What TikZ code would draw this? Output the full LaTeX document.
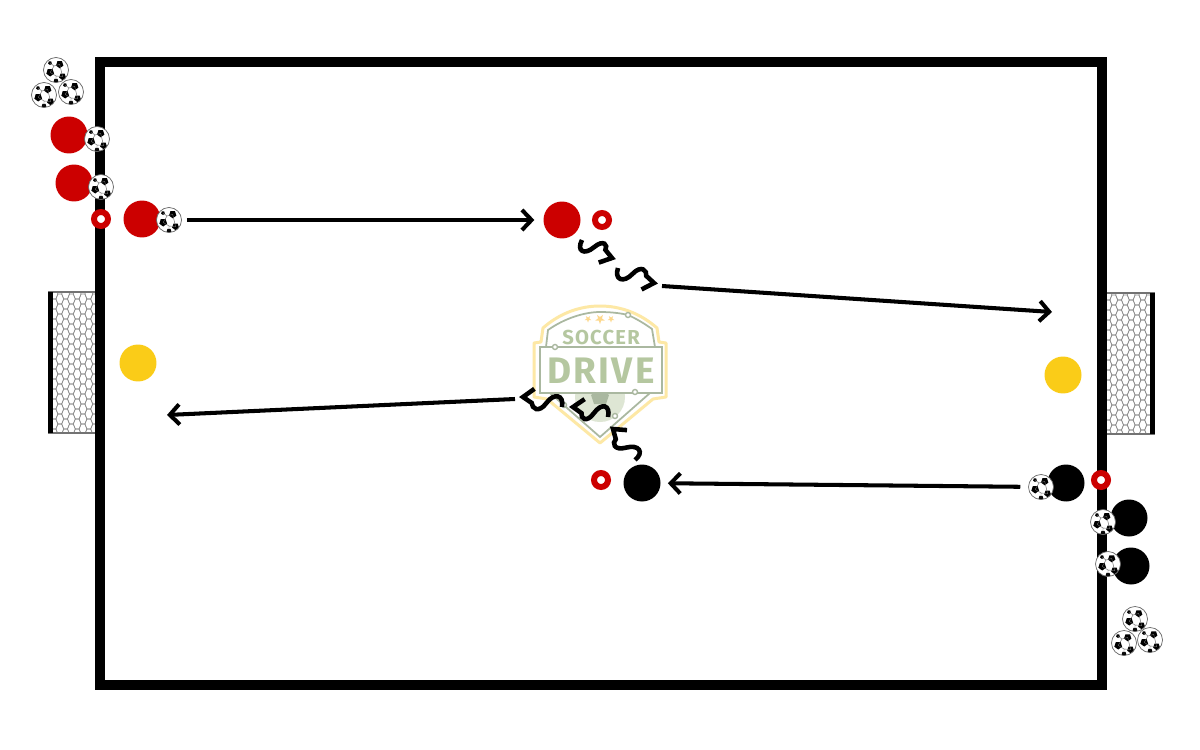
\documentclass[tikz,border=0pt]{standalone}
\usepackage{fontspec}
\usetikzlibrary{arrows.meta,calc}
\newfontfamily\logofont[LetterSpace=6]{Fira Sans}
\definecolor{redteam}{RGB}{204,0,0}
\definecolor{keeper}{RGB}{250,204,24}
\definecolor{crest}{RGB}{181,199,160}
\definecolor{crestline}{RGB}{170,184,160}
\definecolor{crestgold}{RGB}{253,232,165}
\newcommand{\dribblerun}[2]{%
  \draw[dribble] (#1) .. controls ($(#1)!0.02!(#2)!7pt!-90:(#2)$) and ($(#1)!0.28!(#2)!7pt!-90:(#2)$) .. ($(#1)!0.4!(#2)$)
    .. controls ($(#1)!0.52!(#2)!7pt!90:(#2)$) and ($(#1)!0.72!(#2)!5pt!90:(#2)$) .. ($(#2)!6pt!-20:(#1)$) -- (#2) -- ($(#2)!8pt!50:(#1)$);}
\tikzset{
    player/.style={circle,inner sep=0pt,minimum size=0.74cm},
    cone/.style={circle,draw=redteam,fill=white,line width=3.4pt,inner sep=0pt,minimum size=0.28cm},
    ball/.style={circle,draw=black!60,fill=white,line width=0.4pt,inner sep=0pt,minimum size=0.5cm,
      path picture={
        \begin{scope}[shift={(path picture bounding box.center)},x=0.02cm,y=-0.02cm]
          \foreach \spotx/\spoty/\spotr in {3.7/-5.6/3.9,-5.8/2.4/4.1,6.6/6.6/3.6,-6/-7/2,0/11/2.6}{
            \fill[black] (\spotx,\spoty) +(90:\spotr) -- +(162:\spotr) -- +(234:\spotr) -- +(306:\spotr) -- +(18:\spotr) -- cycle;
          }
          \draw[black!60,line width=0.25pt] (-2,-4) -- (3.7,-5.6) (-2,-4) -- (-5.8,2.4) (-5.8,2.4) -- (0,6) -- (6.6,6.6)
            (3.7,-5.6) -- (6.6,6.6) (0,6) -- (0,11) (-2,-4) -- (-6,-7);
        \end{scope}}},
    pass/.style={-{Straight Barb[length=5.5pt,width=11.5pt]},line width=2.3pt},
    dribble/.style={line width=2.6pt,line join=miter},
    netline/.style={black!45,line width=0.35pt}
}
\begin{document}
\begin{tikzpicture}[x=0.02cm,y=-0.02cm]
    \useasboundingbox (0,0) rectangle (1200,750);
    \fill[white] (0,0) rectangle (1200,750);
    % goals
    \foreach \gx/\gy/\px in {53/292/48,1107/293/1150}{
      \begin{scope}
        \clip (\gx,\gy) rectangle ++(43,141);
        \foreach \i in {0,...,8}{
          \foreach \j in {0,...,14}{
            \pgfmathsetmacro{\hx}{\gx+1+5.8*\i}
            \pgfmathsetmacro{\hy}{\gy+2+10*\j+mod(\i,2)*5}
            \draw[netline] (\hx-3.9,\hy) -- (\hx-1.9,\hy-5) -- (\hx+1.9,\hy-5) -- (\hx+3.9,\hy)
              -- (\hx+1.9,\hy+5) -- (\hx-1.9,\hy+5) -- cycle;
          }
        }
      \end{scope}
      \draw[black!55,line width=0.8pt] (\gx-5,\gy) -- ++(53,0) (\gx-5,\gy+141) -- ++(53,0);
      \fill[black] (\px,\gy) rectangle ++(5,141);
    }
    \draw[line width=5.67pt] (100,62) rectangle (1102,685);
    % logo
    \draw[crestgold,line width=1.7pt,line join=round,fill=white] (600,443) -- (547,399) -- (534,397) -- (534,343) -- (541,342) -- (543,328)
      .. controls (560,313) and (580,306) .. (600,306) .. controls (620,306) and (640,313) .. (657,328)
      -- (659,342) -- (666,343) -- (666,397) -- (653,399) -- cycle;
    \draw[crestline,line width=1pt] (546,347) -- (548,330) .. controls (565,318) and (585,312) .. (600,312)
      .. controls (610,312) and (620,313) .. (628,315) .. controls (637,319) and (645,324) .. (652,329) -- (655,347);
    \draw[crestline,line width=1pt] (550,393) -- (600,437) -- (650,393);
    \fill[crest!45] (600,397) circle (25);
    \fill[crestline] (600,389) -- (609,395) -- (606,404) -- (594,404) -- (591,395) -- cycle;
    \draw[crestline,line width=1pt,fill=white] (540,347) rectangle (662,393);
    \draw[crestline,line width=0.8pt,fill=white] (555,347) circle (2.5);
    \draw[crestline,line width=0.8pt,fill=white] (628,315) circle (2.5);
    \draw[crestline,line width=0.8pt,fill=white] (635,392) circle (2.5);
    \draw[crestline,line width=0.8pt,fill=white] (564,405) circle (2.5);
    \draw[crestline,line width=0.8pt,fill=white] (615,416) circle (2.5);
    \foreach \sx/\sr in {588/3.5,600/5,611/3.5}{
      \fill[crestgold!85!orange,shift={(\sx,319)}] (90:\sr) -- (126:\sr*0.4) -- (162:\sr) -- (198:\sr*0.4) -- (234:\sr) -- (270:\sr*0.4)
        -- (306:\sr) -- (342:\sr*0.4) -- (18:\sr) -- (54:\sr*0.4) -- cycle;
    }
    \node[crest,font=\logofont\bfseries\fontsize{11.5}{12}\selectfont,inner sep=0pt] (soccer) at (601,337) {SOCCER};
    \node[crest,font=\logofont\bfseries\fontsize{21}{22}\selectfont,inner sep=0pt] (drive) at (601,371) {DRIVE};
    % players
    \foreach \nam/\x/\y/\col in {
      redA/69/135/redteam,
      redB/74/183/redteam,
      redC/142/219/redteam,
      redD/562/220/redteam,
      keeperA/138/363/keeper,
      keeperB/1063/375/keeper,
      blackA/642/483/black,
      blackB/1066/483/black,
      blackC/1129/518/black,
      blackD/1131/566/black}{
      \node[player,fill=\col] (\nam) at (\x,\y) {};
    }
    \foreach \nam/\x/\y in {
      spareA/56/70,
      spareB/44/95,
      spareC/71/92,
      ballA/97/139,
      ballB/101/187,
      ballC/169/220,
      ballD/1041/487,
      ballE/1103/522,
      ballF/1108/564,
      spareD/1135/619,
      spareE/1124/643,
      spareF/1150/640}{
      \node[ball] (\nam) at (\x,\y) {};
    }
    \foreach \nam/\x/\y in {coneA/101/219,coneB/602/220,coneC/1101/480,coneD/601/480}{
      \node[cone] (\nam) at (\x,\y) {};
    }
    % runs
    \coordinate (dribA) at (582,240);
    \coordinate (dribB) at (612,258);
    \coordinate (dribC) at (618,268);
    \coordinate (dribD) at (654,283);
    \coordinate (passA) at (662,286);
    \coordinate (passB) at (1052,312);
    \coordinate (dribE) at (635,460);
    \coordinate (dribF) at (613,429);
    \coordinate (dribG) at (608,417);
    \coordinate (dribH) at (573,407);
    \coordinate (dribI) at (562,407);
    \coordinate (dribJ) at (523,397);
    \coordinate (passC) at (515,399);
    \coordinate (passD) at (167,415);
    \draw[pass,shorten <=2.8pt,shorten >=5pt] (ballC) -- (redD);
    \draw[pass,shorten <=4.5pt,shorten >=4pt] (ballD) -- (blackA);
    \draw[pass] (passA) -- (passB);
    \draw[pass] (passC) -- (passD);
    \foreach \a/\b in {dribA/dribB,dribC/dribD,dribE/dribF,dribG/dribH,dribI/dribJ}{
      \dribblerun{\a}{\b}
    }
\end{tikzpicture}
\end{document}
